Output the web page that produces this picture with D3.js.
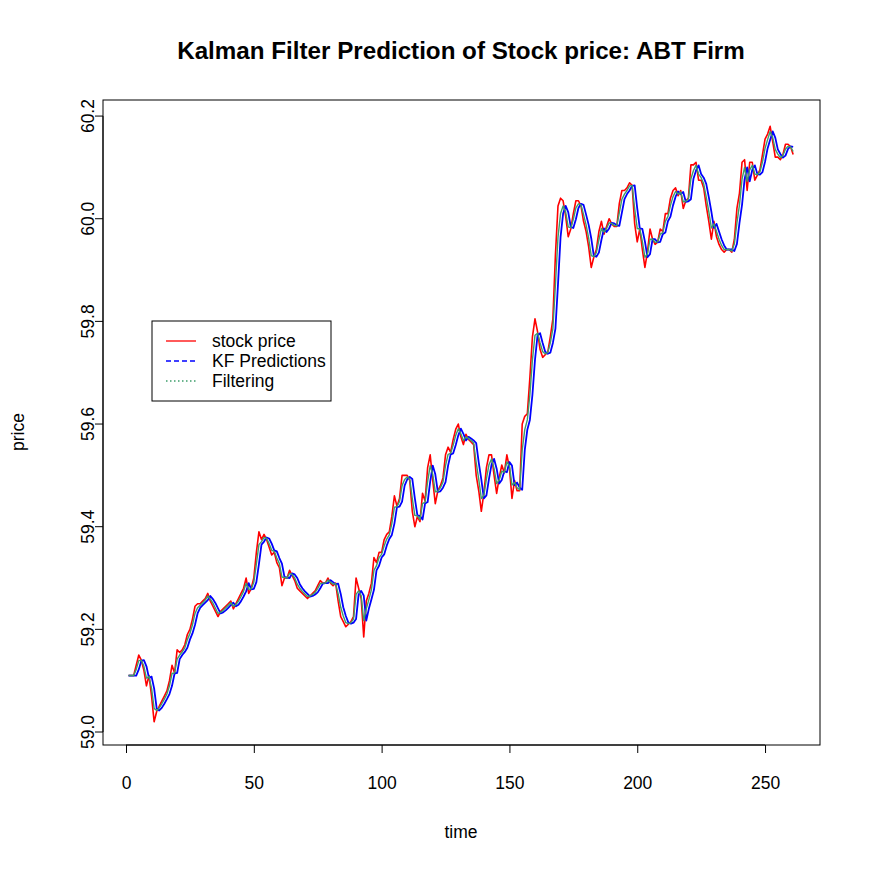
<!DOCTYPE html>
<html><head><meta charset="utf-8">
<script src="https://cdn.jsdelivr.net/npm/d3@7"></script>
<style>body{margin:0;background:#fff}svg{display:block}text{font-family:"Liberation Sans",Arial,sans-serif}</style>
</head><body>
<svg id="c" width="872" height="872"></svg>
<script>
const stockPrice = [59.11,59.11,59.11,59.13,59.15,59.14,59.12,59.09,59.11,59.07,
59.02,59.04,59.05,59.06,59.07,59.08,59.10,59.13,59.115,59.16,
59.155,59.16,59.17,59.19,59.20,59.22,59.245,59.25,59.25,59.255,
59.26,59.27,59.255,59.245,59.235,59.225,59.235,59.24,59.245,59.25,
59.255,59.24,59.25,59.26,59.27,59.28,59.30,59.27,59.28,59.30,
59.35,59.39,59.375,59.385,59.375,59.36,59.345,59.35,59.33,59.32,
59.285,59.30,59.30,59.315,59.305,59.295,59.28,59.275,59.27,59.265,
59.26,59.265,59.27,59.275,59.285,59.295,59.29,59.29,59.30,59.29,
59.285,59.29,59.255,59.225,59.215,59.205,59.21,59.215,59.225,59.30,
59.28,59.26,59.185,59.255,59.27,59.29,59.34,59.33,59.35,59.35,
59.375,59.385,59.39,59.42,59.46,59.44,59.455,59.50,59.50,59.50,
59.49,59.43,59.40,59.42,59.41,59.465,59.45,59.515,59.54,59.49,
59.445,59.47,59.48,59.495,59.54,59.555,59.545,59.57,59.59,59.60,
59.575,59.56,59.58,59.57,59.565,59.56,59.50,59.47,59.43,59.465,
59.515,59.54,59.54,59.50,59.465,59.495,59.52,59.505,59.54,59.515,
59.455,59.49,59.47,59.47,59.60,59.615,59.62,59.69,59.77,59.805,
59.78,59.745,59.73,59.735,59.74,59.77,59.805,59.93,60.025,60.04,
60.035,60.005,59.965,59.98,60.01,60.035,60.035,60.025,59.995,59.975,
59.945,59.905,59.925,59.94,59.975,59.995,59.97,59.985,60.00,59.99,
59.985,59.985,60.03,60.055,60.055,60.06,60.07,60.065,59.99,59.955,
59.98,59.94,59.905,59.935,59.98,59.96,59.95,59.955,59.98,59.975,
60.01,60.01,60.04,60.055,60.06,60.045,60.055,60.02,60.035,60.04,
60.105,60.105,60.11,60.075,60.075,60.06,60.025,59.995,59.96,59.995,
59.965,59.95,59.94,59.935,59.94,59.94,59.935,59.96,60.02,60.05,
60.11,60.115,60.055,60.11,60.11,60.075,60.085,60.095,60.125,60.155,
60.165,60.18,60.15,60.12,60.12,60.115,60.125,60.145,60.145,60.14,
60.125];

const filtering = [59.110,59.110,59.110,59.122,59.139,59.140,59.128,59.105,59.108,59.085,
59.046,59.042,59.047,59.055,59.064,59.074,59.090,59.114,59.115,59.142,
59.150,59.156,59.164,59.180,59.192,59.209,59.231,59.242,59.247,59.252,
59.257,59.265,59.259,59.251,59.241,59.231,59.233,59.237,59.242,59.247,
59.252,59.245,59.248,59.255,59.264,59.274,59.290,59.278,59.279,59.292,
59.327,59.365,59.371,59.379,59.377,59.367,59.354,59.352,59.339,59.328,
59.302,59.301,59.300,59.309,59.307,59.300,59.288,59.280,59.274,59.269,
59.264,59.265,59.268,59.272,59.280,59.289,59.290,59.290,59.296,59.292,
59.288,59.289,59.269,59.243,59.226,59.213,59.211,59.213,59.220,59.268,
59.275,59.266,59.217,59.240,59.258,59.277,59.315,59.324,59.340,59.346,
59.363,59.376,59.384,59.406,59.438,59.439,59.449,59.480,59.492,59.497,
59.493,59.455,59.422,59.421,59.414,59.445,59.448,59.488,59.519,59.502,
59.468,59.469,59.476,59.487,59.519,59.541,59.543,59.559,59.578,59.591,
59.581,59.568,59.575,59.572,59.568,59.563,59.525,59.492,59.455,59.461,
59.493,59.521,59.532,59.513,59.484,59.491,59.508,59.506,59.526,59.519,
59.481,59.486,59.476,59.472,59.549,59.589,59.608,59.657,59.725,59.773,
59.777,59.758,59.741,59.737,59.739,59.758,59.786,59.872,59.964,60.010,
60.025,60.013,59.984,59.982,59.999,60.021,60.029,60.027,60.008,59.988,
59.962,59.928,59.926,59.934,59.959,59.981,59.974,59.981,59.992,59.991,
59.987,59.986,60.012,60.038,60.048,60.055,60.064,60.065,60.020,59.981,
59.980,59.956,59.925,59.931,59.960,59.960,59.954,59.955,59.970,59.973,
59.995,60.004,60.026,60.043,60.053,60.048,60.052,60.033,60.034,60.038,
60.078,60.094,60.104,60.087,60.080,60.068,60.042,60.014,59.982,59.990,
59.975,59.960,59.948,59.940,59.940,59.940,59.937,59.951,59.992,60.027,
60.077,60.100,60.073,60.095,60.104,60.087,60.086,60.091,60.111,60.137,
60.154,60.170,60.158,60.135,60.126,60.119,60.123,60.136,60.141,60.140,
60.131];

const kfPredictions = [59.110,59.110,59.110,59.110,59.122,59.139,59.140,59.128,59.105,59.108,
59.085,59.046,59.042,59.047,59.055,59.064,59.074,59.090,59.114,59.115,
59.142,59.150,59.156,59.164,59.180,59.192,59.209,59.231,59.242,59.247,
59.252,59.257,59.265,59.259,59.251,59.241,59.231,59.233,59.237,59.242,
59.247,59.252,59.245,59.248,59.255,59.264,59.274,59.290,59.278,59.279,
59.292,59.327,59.365,59.371,59.379,59.377,59.367,59.354,59.352,59.339,
59.328,59.302,59.301,59.300,59.309,59.307,59.300,59.288,59.280,59.274,
59.269,59.264,59.265,59.268,59.272,59.280,59.289,59.290,59.290,59.296,
59.292,59.288,59.289,59.269,59.243,59.226,59.213,59.211,59.213,59.220,
59.268,59.275,59.266,59.217,59.240,59.258,59.277,59.315,59.324,59.340,
59.346,59.363,59.376,59.384,59.406,59.438,59.439,59.449,59.480,59.492,
59.497,59.493,59.455,59.422,59.421,59.414,59.445,59.448,59.488,59.519,
59.502,59.468,59.469,59.476,59.487,59.519,59.541,59.543,59.559,59.578,
59.591,59.581,59.568,59.575,59.572,59.568,59.563,59.525,59.492,59.455,
59.461,59.493,59.521,59.532,59.513,59.484,59.491,59.508,59.506,59.526,
59.519,59.481,59.486,59.476,59.472,59.549,59.589,59.608,59.657,59.725,
59.773,59.777,59.758,59.741,59.737,59.739,59.758,59.786,59.872,59.964,
60.010,60.025,60.013,59.984,59.982,59.999,60.021,60.029,60.027,60.008,
59.988,59.962,59.928,59.926,59.934,59.959,59.981,59.974,59.981,59.992,
59.991,59.987,59.986,60.012,60.038,60.048,60.055,60.064,60.065,60.020,
59.981,59.980,59.956,59.925,59.931,59.960,59.960,59.954,59.955,59.970,
59.973,59.995,60.004,60.026,60.043,60.053,60.048,60.052,60.033,60.034,
60.038,60.078,60.094,60.104,60.087,60.080,60.068,60.042,60.014,59.982,
59.990,59.975,59.960,59.948,59.940,59.940,59.940,59.937,59.951,59.992,
60.027,60.077,60.100,60.073,60.095,60.104,60.087,60.086,60.091,60.111,
60.137,60.154,60.170,60.158,60.135,60.126,60.119,60.123,60.136,60.141,
60.140];

const xTicks = [0,50,100,150,200,250];
const yTicks = [59.0,59.2,59.4,59.6,59.8,60.0,60.2];
const yTickLabels = ["59.0","59.2","59.4","59.6","59.8","60.0","60.2"];
const legendLabels = ["stock price","KF Predictions","Filtering"];
const titleText = "Kalman Filter Prediction of Stock price: ABT Firm";

const colRed = "#FF0000", colBlue = "#0000FF", colGreen = "#3C9D6A";

const svg = d3.select("#c");
const L = 103, R = 820, T = 100, B = 745;
const x = d3.scaleLinear().domain([-9.0, 271.5]).range([L, R]);
const y = d3.scaleLinear().domain([58.9747, 60.2313]).range([B, T]);

const font = '"Liberation Sans",Arial,sans-serif';
const fs = 17.5;

// title
svg.append("text").attr("x", 461).attr("y", 59).attr("text-anchor","middle")
  .attr("font-size", 24.2).attr("font-weight","bold").text(titleText);

// lines
const line = d3.line().x((d,i)=>x(i+1)).y(d=>y(d));
const g = svg.append("g");
g.append("path").datum(stockPrice).attr("d", line).attr("fill","none")
  .attr("stroke", colRed).attr("stroke-width", 1.6).attr("stroke-linejoin","round");
g.append("path").datum(kfPredictions).attr("d", line).attr("fill","none")
  .attr("stroke", colBlue).attr("stroke-width", 1.8).attr("stroke-linejoin","round");
g.append("path").datum(filtering).attr("d", line).attr("fill","none")
  .attr("stroke", colGreen).attr("stroke-width", 1.4).attr("stroke-linejoin","round");

// box
svg.append("rect").attr("x", L).attr("y", T).attr("width", R-L).attr("height", B-T)
  .attr("fill","none").attr("stroke","#000").attr("stroke-width",1);

// x axis
const xa = svg.append("g").attr("transform", `translate(0,${B})`)
  .call(d3.axisBottom(x).tickValues(xTicks).tickSize(8).tickPadding(24).tickSizeOuter(0));
xa.select(".domain").attr("d", `M${x(0)},0H${x(250)}`);
xa.selectAll("text").attr("font-size", fs).attr("font-family", font).attr("fill","#000");

// y axis
const yl = -9;
const ya = svg.append("g").attr("transform", `translate(${L},0)`)
  .call(d3.axisLeft(y).tickValues(yTicks).tickFormat((d,i)=>yTickLabels[i]).tickSize(8).tickSizeOuter(0));
ya.select(".domain").attr("d", `M0,${y(59.0)}V${y(60.2)}`);
ya.selectAll(".tick").attr("transform", null);
ya.selectAll(".tick line").attr("y1", d=>y(d)).attr("y2", d=>y(d));
ya.selectAll("text").attr("font-size", fs).attr("font-family", font).attr("fill","#000")
  .attr("x", yl).attr("y", d=>y(d)).attr("dy", 0).attr("text-anchor","middle")
  .attr("transform", d=>`rotate(-90, ${yl}, ${y(d)})`);

// axis titles
svg.append("text").attr("x", 461).attr("y", 838).attr("text-anchor","middle")
  .attr("font-size", fs).text("time");
svg.append("text").attr("transform","translate(24,432) rotate(-90)").attr("text-anchor","middle")
  .attr("font-size", fs).text("price");

// legend
const lg = svg.append("g");
lg.append("rect").attr("x",152).attr("y",321).attr("width",179).attr("height",80)
  .attr("fill","#fff").attr("stroke","#000").attr("stroke-width",1);
const legCols = [colRed, colBlue, colGreen];
const legDash = [null, "5,3", "1.5,2.5"];
legendLabels.forEach((lab,i)=>{
  const yy = 341 + i*20;
  lg.append("line").attr("x1",166).attr("x2",196).attr("y1",yy).attr("y2",yy)
    .attr("stroke",legCols[i]).attr("stroke-width",1.3).attr("stroke-dasharray",legDash[i]);
  lg.append("text").attr("x",212).attr("y",yy+6).attr("font-size",fs).text(lab);
});
</script>
</body></html>
